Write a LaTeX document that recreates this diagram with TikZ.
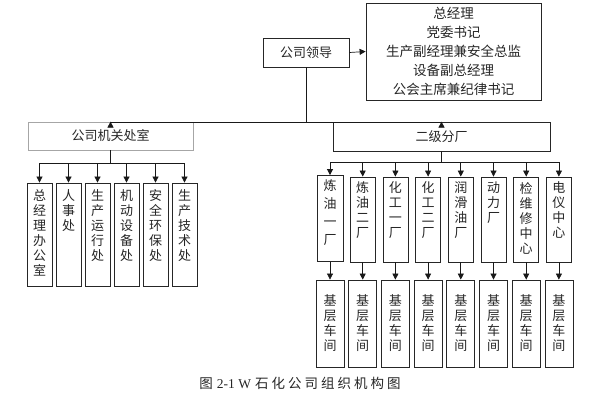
\documentclass[tikz,border=0pt]{standalone}
\usepackage{fontspec}
\setmainfont{Noto Sans CJK SC}
\newfontfamily\latinfont{Liberation Serif}
\usetikzlibrary{arrows.meta}
\newcommand\vstack[2]{\parbox[c][#1][t]{16pt}{\centering #2}}
\begin{document}
\begin{tikzpicture}[x=1pt,y=-1pt,
  box/.style={draw=black!85,line width=0.8pt,inner sep=0pt,font=\fontsize{13}{15}\selectfont,text=black!85,align=center},
  gbox/.style={box,draw=black!35},
  arr/.style={-{Triangle[length=6pt,width=6pt]},line width=0.7pt,draw=black!90},
  ln/.style={line width=0.7pt,draw=black!90}]
\useasboundingbox (0,0) rectangle (599,401);
% top level
\node[box,minimum width=86pt,minimum height=29pt] (ld) at (306,52.5) {公司领导};
\node[box,minimum width=175pt,minimum height=97pt,font=\fontsize{13.5}{19}\selectfont] (top) at (453.5,51.5)
  {总经理\\党委书记\\生产副经理兼安全总监\\设备副总经理\\公会主席兼纪律书记};
\draw[arr] (ld.east) -- (top.west);
% second level
\node[gbox,minimum width=165pt,minimum height=28pt] (jg) at (110.5,136) {公司机关处室};
\node[box,minimum width=217pt,minimum height=29pt] (ej) at (441.5,136.5) {二级分厂};
\draw[arr] (ld.south) -- ++(0,54.5) -| (jg.north);
\draw[arr] (ld.south) -- ++(0,54.5) -| (ej.north);
% left departments
\tikzset{lb/.style={box,minimum width=25pt,minimum height=103pt}}
\node[lb] (l1) at (39.5,234.5) {\vstack{89pt}{总\\经\\理\\办\\公\\室}};
\node[lb] (l2) at (68.5,234.5) {\vstack{89pt}{人\\事\\处}};
\node[lb] (l3) at (97.5,234.5) {\vstack{89pt}{生\\产\\运\\行\\处}};
\node[lb] (l4) at (126.5,234.5) {\vstack{89pt}{机\\动\\设\\备\\处}};
\node[lb] (l5) at (155.5,234.5) {\vstack{89pt}{安\\全\\环\\保\\处}};
\node[lb] (l6) at (184.5,234.5) {\vstack{89pt}{生\\产\\技\\术\\处}};
\foreach \i in {1,...,6} \draw[arr] (jg.south) -- ++(0,13) -| (l\i.north);
% right factories
\tikzset{rb/.style={box,minimum width=25pt,minimum height=85pt},
         bb/.style={box,minimum width=28pt,minimum height=87pt}}
\node[rb,minimum width=26pt,minimum height=86pt] (r1) at (330,218.5) {\vstack{78pt}{炼\\[3pt]油\\[3pt]一\\[3pt]厂}};
\node[rb] (r2) at (362.7,219.5) {\vstack{75pt}{炼\\油\\二\\厂}};
\node[rb] (r3) at (395.4,219.5) {\vstack{75pt}{化\\工\\一\\厂}};
\node[rb] (r4) at (428.1,219.5) {\vstack{75pt}{化\\工\\二\\厂}};
\node[rb] (r5) at (460.8,219.5) {\vstack{75pt}{润\\滑\\油\\厂}};
\node[rb] (r6) at (493.5,219.5) {\vstack{75pt}{动\\力\\厂}};
\node[rb] (r7) at (526.2,219.5) {\vstack{75pt}{检\\维\\修\\中\\心}};
\node[rb] (r8) at (558.9,219.5) {\vstack{75pt}{电\\仪\\中\\心}};
\foreach \i in {1,...,8} {
  \draw[arr] (ej.south) -- ++(0,11) -| (r\i.north);
  \node[bb] (b\i) at (r\i.south |- 0,323.5) {基\\层\\车\\间};
  \draw[arr] (r\i.south) -- (b\i.north);
}
% caption
\node[inner sep=0pt,font=\fontsize{13.5}{16}\selectfont,text=black!85] (cap) at (300,383)
  {图\hspace{4pt}{\latinfont 2-1 W}\hspace{4pt}石\hspace{3pt}化\hspace{3pt}公\hspace{3pt}司\hspace{3pt}组\hspace{3pt}织\hspace{3pt}机\hspace{3pt}构\hspace{3pt}图};
\end{tikzpicture}
\end{document}
